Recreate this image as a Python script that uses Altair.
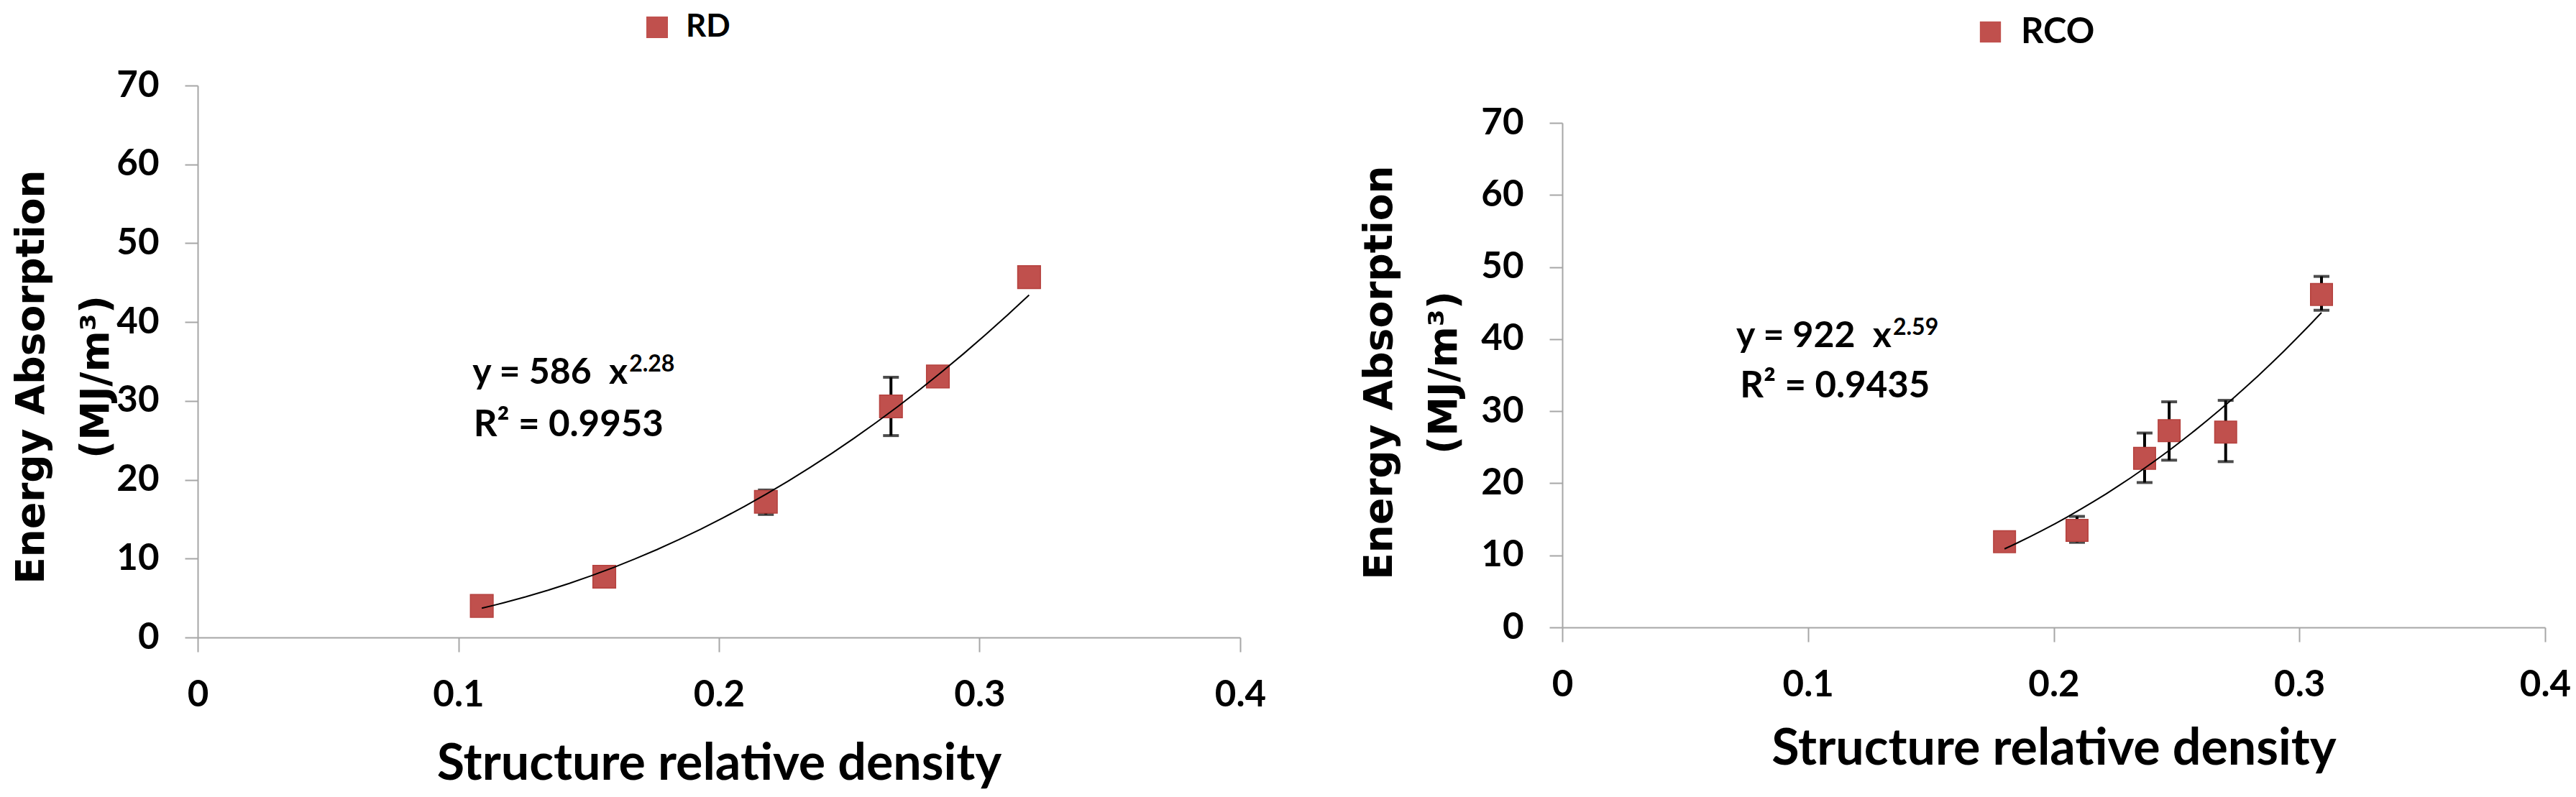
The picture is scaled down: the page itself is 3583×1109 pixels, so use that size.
import altair as alt
import pandas as pd

# ---------------- data ----------------
series_names = ["RD", "RCO"]

rd_density = [0.109, 0.156, 0.218, 0.266, 0.284, 0.319]
rd_energy = [4.0, 7.7, 17.2, 29.3, 33.1, 45.7]
rd_err_density = [0.218, 0.266]
rd_err_low = [15.6, 25.6]
rd_err_high = [18.7, 33.0]

rco_density = [0.180, 0.2095, 0.237, 0.247, 0.270, 0.309]
rco_energy = [11.9, 13.45, 23.45, 27.3, 27.1, 46.2]
rco_err_density = [0.2095, 0.237, 0.247, 0.270, 0.309]
rco_err_low = [11.8, 20.1, 23.2, 23.0, 44.0]
rco_err_high = [15.4, 26.97, 31.3, 31.5, 48.7]

x_ticks = [0, 0.1, 0.2, 0.3, 0.4]
y_ticks = [0, 10, 20, 30, 40, 50, 60, 70]

equations = ["y = 586\u00a0\u00a0x", "y = 922\u00a0\u00a0x"]
exponents = ["2.28", "2.59"]
r_squared = ["R\u00b2 = 0.9953", "R\u00b2 = 0.9435"]
# annotation anchors (data units of each panel)
eq_anchor_x = [0.165, 0.134]
eq_anchor_y = [32.2, 38.9]
r2_anchor_x = [0.1423, 0.111]
r2_anchor_y = [25.5, 31.9]

x_title = "Structure relative density"
y_title = ["Energy Absorption", "(MJ/m\u00b3)"]

# ---------------- styling / layout ----------------
PAD_TOP = 8
W, H = 3567, 1109 - 16 - PAD_TOP
RED = "#C0504D"
AXIS_GRAY = "#A6A6A6"
LFONT = "Lato"
TFONT = "DejaVu Sans"

# view coordinates: page x - 8, page y - 16
layout = [
    dict(xr=[267, 1717], yr=[871, 103], y_off=-267, x_off=871 - H,
         ytx=-232, yty=508, xty=197, legx=884, legy=0, legfs=44, sym=900, msize=1000),
    dict(xr=[2165, 3532], yr=[857, 155], y_off=-2165, x_off=857 - H,
         ytx=-255, yty=502, xty=190, legx=2736, legy=4, legfs=49, sym=860, msize=930),
]

data_sets = [
    (rd_density, rd_energy, rd_err_density, rd_err_low, rd_err_high),
    (rco_density, rco_energy, rco_err_density, rco_err_low, rco_err_high),
]


def panel(i):
    dens, energy, ed, el, eh = data_sets[i]
    L = layout[i]
    name = series_names[i]
    pts = pd.DataFrame({"x": dens, "y": energy, "series": [name] * len(dens)})
    err = pd.DataFrame({"x": ed, "lo": el, "hi": eh})
    eq = pd.DataFrame({"x": [eq_anchor_x[i]], "y": [eq_anchor_y[i]],
                       "main": [equations[i]], "sup": [exponents[i]]})
    r2 = pd.DataFrame({"x": [r2_anchor_x[i]], "y": [r2_anchor_y[i]], "t": [r_squared[i]]})

    xs = alt.Scale(domain=[0, 0.4], range=L["xr"], nice=False, zero=False)
    ys = alt.Scale(domain=[0, 70], range=L["yr"], nice=False, zero=False)
    xaxis = alt.Axis(
        orient="bottom", offset=L["x_off"], values=x_ticks, format="~g", grid=False,
        domainColor=AXIS_GRAY, domainWidth=2, tickColor=AXIS_GRAY, tickWidth=2, tickSize=20,
        labelFont=LFONT, labelFontSize=51, labelFontWeight="bold", labelColor="black",
        labelBaseline="alphabetic", labelPadding=75, labelFlush=False, labelOverlap=False,
        title=x_title, titleFont=LFONT, titleFontSize=70, titleFontWeight="bold",
        titleColor="black", titleBaseline="alphabetic", titleY=L["xty"],
    )
    yaxis = alt.Axis(
        orient="left", offset=L["y_off"], values=y_ticks, grid=False,
        domainColor=AXIS_GRAY, domainWidth=2, tickColor=AXIS_GRAY, tickWidth=2, tickSize=18,
        labelFont=LFONT, labelFontSize=51, labelFontWeight="bold", labelColor="black",
        labelPadding=36, labelFlush=False, labelOverlap=False,
        title=y_title, titleFont=TFONT, titleFontSize=55, titleFontWeight="bold",
        titleColor="black", titleAngle=270, titleAlign="center", titleBaseline="middle",
        titleLineHeight=90, titleX=L["ytx"], titleY=L["yty"],
    )

    def X(f):
        return alt.X(f, type="quantitative", scale=xs, axis=xaxis)

    def Y(f):
        return alt.Y(f, type="quantitative", scale=ys, axis=yaxis)

    bars = alt.Chart(err).mark_errorbar(ticks=True, size=22, thickness=4, color="black").encode(
        x=X("x"), y=Y("lo"), y2=alt.Y2("hi")
    )
    points = alt.Chart(pts).mark_point(
        filled=True, shape="square", size=L["msize"], opacity=1,
        stroke="#B5413E", strokeWidth=1.5
    ).encode(
        x=X("x"), y=Y("y"),
        color=alt.Color(
            "series:N",
            scale=alt.Scale(domain=[name], range=[RED]),
            legend=alt.Legend(
                orient="none", legendX=L["legx"], legendY=L["legy"], title=None,
                symbolType="square", symbolSize=L["sym"], symbolFillColor=RED,
                symbolStrokeWidth=0, symbolOpacity=1,
                labelFont=LFONT, labelFontSize=L["legfs"], labelFontWeight="bold",
                labelColor="black", labelOffset=18, padding=0,
            ),
        ),
    )
    trend = alt.Chart(pts).transform_regression("x", "y", method="pow").mark_line(
        color="black", strokeWidth=2
    ).encode(x=X("x"), y=Y("y"))

    eq_main = alt.Chart(eq).mark_text(
        align="right", baseline="alphabetic", font=LFONT, fontSize=50,
        fontWeight="bold", color="black"
    ).encode(x=X("x"), y=Y("y"), text="main:N")
    eq_sup = alt.Chart(eq).mark_text(
        align="left", baseline="alphabetic", font=LFONT, fontSize=32,
        fontWeight="bold", color="black", dx=2, dy=-17
    ).encode(x=X("x"), y=Y("y"), text="sup:N")
    r2_txt = alt.Chart(r2).mark_text(
        align="center", baseline="alphabetic", font=LFONT, fontSize=51,
        fontWeight="bold", color="black"
    ).encode(x=X("x"), y=Y("y"), text="t:N")

    return alt.layer(bars, points, trend, eq_main, eq_sup, r2_txt)


chart = alt.layer(panel(0), panel(1)).resolve_scale(
    x="independent", y="independent", color="independent"
).properties(
    width=W, height=H,
    padding={"left": 0, "top": PAD_TOP, "right": 0, "bottom": 0},
    autosize=alt.AutoSizeParams(type="none"),
    background="white",
).configure_view(stroke="transparent")

chart.save("out.html", embed_options={"renderer": "svg", "actions": False})
